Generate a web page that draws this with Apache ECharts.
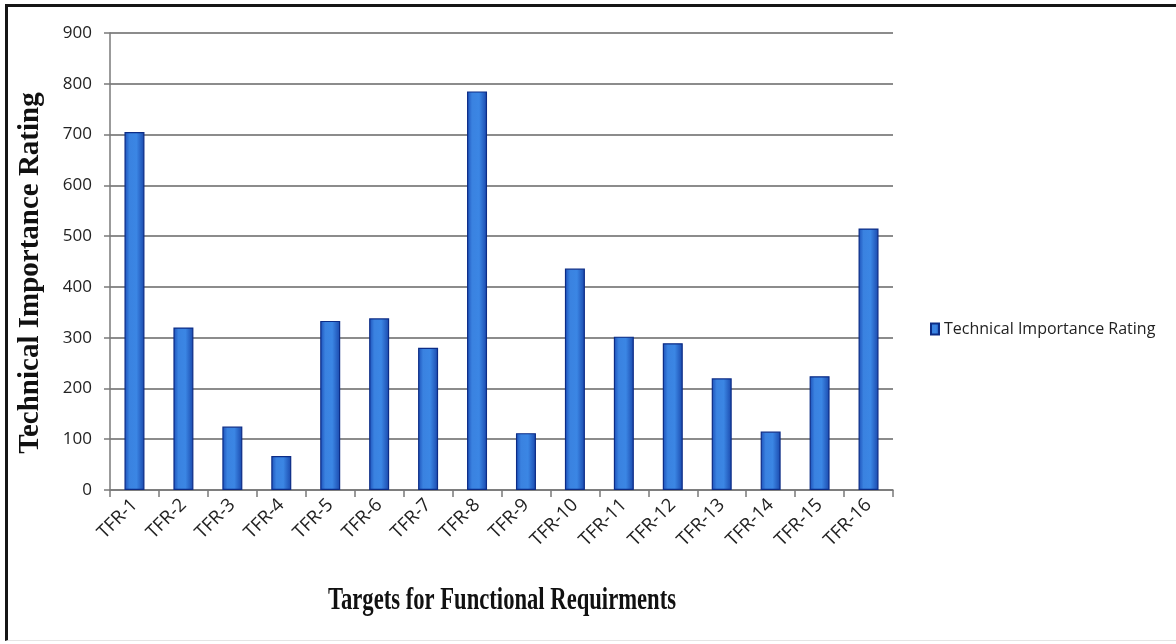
<!DOCTYPE html>
<html>
<head>
<meta charset="utf-8">
<script src="https://cdn.jsdelivr.net/npm/echarts@6/dist/echarts.min.js"></script>
<style>
  html, body { margin: 0; padding: 0; background: #fff; }
  #wrap { position: relative; width: 1176px; height: 644px; overflow: hidden; }
  #chart { position: absolute; left: 0; top: 0; width: 1176px; height: 644px; }
  #frame {
    position: absolute; left: 5px; top: 4px; width: 1180px; height: 633px;
    border-top: 3px solid #151515; border-left: 3px solid #151515;
    border-bottom: 1px solid #e4e4e4; pointer-events: none;
  }
</style>
</head>
<body>
<div id="wrap">
  <div id="chart"></div>
  <div id="frame"></div>
</div>
<script>
// Targets for functional requirements and their technical importance ratings
const categories = ['TFR-1','TFR-2','TFR-3','TFR-4','TFR-5','TFR-6','TFR-7','TFR-8',
                    'TFR-9','TFR-10','TFR-11','TFR-12','TFR-13','TFR-14','TFR-15','TFR-16'];
const ratings = [705, 320, 125, 67, 333, 338, 280, 785, 112, 436, 302, 289, 220, 115, 224, 515];
const seriesName = 'Technical Importance Rating';
const xTitle = 'Targets for Functional Requirments';
const yTitle = 'Technical Importance Rating';

const chart = echarts.init(document.getElementById('chart'), null, { renderer: 'canvas' });

const barFill = new echarts.graphic.LinearGradient(0, 0, 1, 0, [
  { offset: 0, color: '#1c4fb8' },
  { offset: 0.25, color: '#3a82e0' },
  { offset: 0.6, color: '#3b86e4' },
  { offset: 1, color: '#1a48ac' }
]);

const titleFont = { fontFamily: 'Liberation Serif', fontWeight: 'bold', fill: '#111' };

chart.setOption({
  animation: false,
  backgroundColor: '#ffffff',
  grid: { left: 110, right: 283, top: 33, bottom: 154, containLabel: false },
  legend: {
    left: 925, top: 316, orient: 'vertical',
    itemWidth: 8, itemHeight: 11, itemGap: 5,
    icon: 'rect',
    textStyle: { fontFamily: 'Open Sans', fontSize: 16, color: '#222' },
    data: [seriesName]
  },
  graphic: [
    {
      // horizontal axis title, condensed bold serif
      type: 'text',
      x: 502, y: 601, scaleX: 0.73,
      style: Object.assign({ text: xTitle, fontSize: 31, x: 0, y: 0,
        align: 'center', verticalAlign: 'middle' }, titleFont)
    },
    {
      // vertical axis title, reading bottom to top
      type: 'text',
      x: 31, y: 273, rotation: Math.PI / 2,
      style: Object.assign({ text: yTitle, fontSize: 29, x: 0, y: 0,
        align: 'center', verticalAlign: 'middle' }, titleFont)
    }
  ],
  xAxis: {
    type: 'category',
    data: categories,
    axisLine: { show: true, lineStyle: { color: '#7a7a7a', width: 1.5 } },
    axisTick: { show: true, alignWithLabel: false, length: 7, lineStyle: { color: '#7a7a7a', width: 1.5 } },
    axisLabel: {
      rotate: 45, margin: 12, interval: 0,
      fontFamily: 'Open Sans', fontSize: 18.5, color: '#222'
    },
    splitLine: { show: false }
  },
  yAxis: {
    type: 'value',
    min: 0, max: 900, interval: 100,
    axisLine: { show: true, lineStyle: { color: '#7a7a7a', width: 1.5 } },
    axisTick: { show: true, length: 6, lineStyle: { color: '#7a7a7a', width: 1.5 } },
    axisLabel: { margin: 18, fontFamily: 'Open Sans', fontSize: 17, color: '#222' },
    splitLine: { show: true, lineStyle: { color: '#666666', width: 1.5 } }
  },
  series: [{
    name: seriesName,
    type: 'bar',
    data: ratings,
    barWidth: 20,
    itemStyle: { color: barFill, borderColor: '#0c2c86', borderWidth: 1.2 }
  }]
});
</script>
</body>
</html>
